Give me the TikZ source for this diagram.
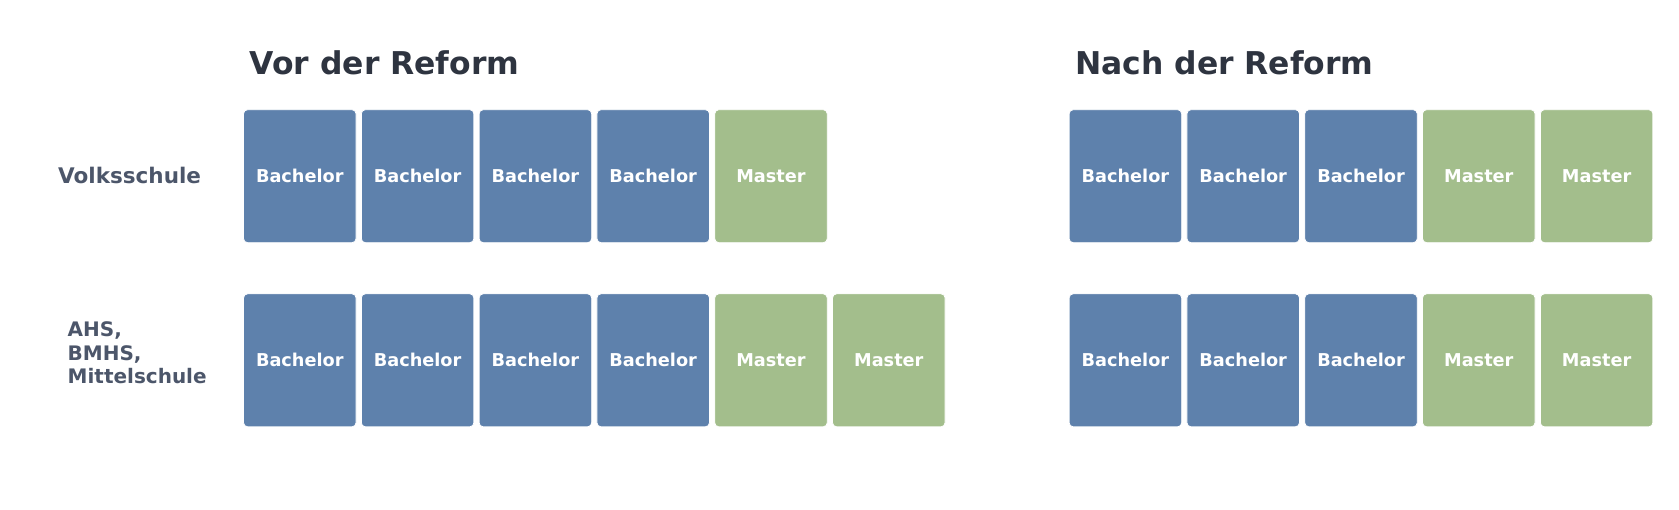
\documentclass[tikz,border=0pt]{standalone}
\usepackage{fontspec}
\setmainfont{DejaVu Sans}
\usetikzlibrary{positioning}

\definecolor{bachblue}{HTML}{5E81AC}
\definecolor{mastgreen}{HTML}{A3BE8C}
\definecolor{titledark}{HTML}{2E3440}
\definecolor{rowgray}{HTML}{4C566A}

\tikzset{
  year/.style={draw=white, line width=0.8pt, rounded corners=4pt,
    minimum width=112.5pt, minimum height=133pt, inner sep=0pt,
    text=white, font=\bfseries\fontsize{17.7}{20}\selectfont},
  bach/.style={year, fill=bachblue},
  mast/.style={year, fill=mastgreen},
  heading/.style={text=titledark, font=\bfseries\fontsize{31.4}{36}\selectfont, inner sep=0pt},
  rowlabel/.style={text=rowgray, font=\bfseries\fontsize{20}{23.5}\selectfont, inner sep=0pt}
}

\begin{document}
\begin{tikzpicture}[x=1pt,y=-1pt]
  % Fix the page size
  \useasboundingbox (0,0) rectangle (1679,510);
  % Column headings
  \node[heading, anchor=base west] (vortitle) at (249.5,75) {Vor der Reform};
  \node[heading, anchor=base west] (nachtitle) at (1075,75) {Nach der Reform};
  % Row labels
  \node[rowlabel, font=\bfseries\fontsize{21.5}{24}\selectfont] (volks) at (129.6,175.6) {Volksschule};
  \node[rowlabel, align=left, anchor=west] (ahs) at (67.5,353) {AHS,\\BMHS,\\Mittelschule};
  % Before the reform: Volksschule
  \foreach \i in {0,...,3}
    \node[bach] (vv\i) at (299.8+117.8*\i,176.2) {Bachelor};
  \node[mast] (vv4) at (299.8+117.8*4,176.2) {Master};
  % Before the reform: AHS, BMHS, Mittelschule
  \foreach \i in {0,...,3}
    \node[bach] (va\i) at (299.8+117.8*\i,360.3) {Bachelor};
  \foreach \i in {4,5}
    \node[mast] (va\i) at (299.8+117.8*\i,360.3) {Master};
  % After the reform: both rows the same
  \foreach \y/\r in {176.2/nv,360.3/na} {
    \foreach \i in {0,1,2}
      \node[bach] (\r\i) at (1125.4+117.8*\i,\y) {Bachelor};
    \foreach \i in {3,4}
      \node[mast] (\r\i) at (1125.4+117.8*\i,\y) {Master};
  }
\end{tikzpicture}
\end{document}
